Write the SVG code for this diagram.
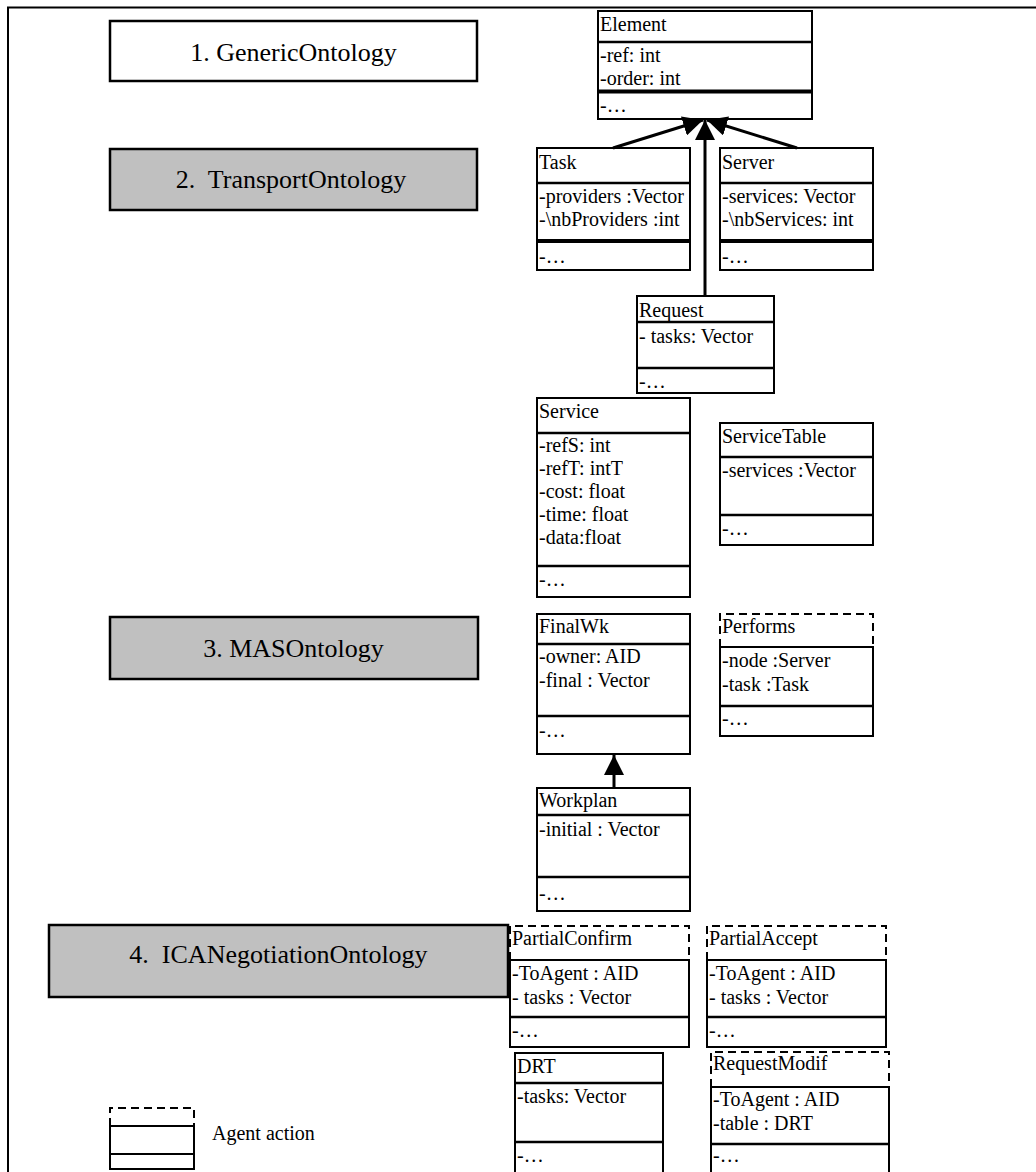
<svg xmlns="http://www.w3.org/2000/svg" width="1036" height="1172" viewBox="0 0 1036 1172">
  <style>
    .frame { fill: none; stroke: #000; stroke-width: 2; }
    .box { fill: #fff; stroke: #000; stroke-width: 2; }
    .div { stroke: #000; stroke-width: 2.5; }
    .thick { stroke: #000; stroke-width: 4; }
    .dash { fill: none; stroke: #000; stroke-width: 2; stroke-dasharray: 8 5; }
    .onto { stroke: #000; stroke-width: 2.5; }
    .grey { fill: #c0c0c0; }
    .white { fill: #fff; }
    .t { font-family: "Liberation Serif", "Times New Roman", serif; font-size: 20px; fill: #000; }
    .ot { font-family: "Liberation Serif", "Times New Roman", serif; font-size: 26px; fill: #000; text-anchor: middle; }
    .conn { stroke: #000; stroke-width: 3; fill: none; }
  </style>
  <defs>
    <marker id="tri" viewBox="0 0 10 10" refX="10" refY="5" markerWidth="20" markerHeight="20" markerUnits="userSpaceOnUse" orient="auto">
      <path d="M0,0 L10,5 L0,10 z" fill="#000"/>
    </marker>
  </defs>

  <rect width="1036" height="1172" fill="#fff"/>

  <!-- page frame: top and left rules -->
  <path class="frame" d="M1036,7.5 H8 V1172"/>

  <!-- ontology layer labels -->
  <g id="generic-ontology">
    <rect class="onto white" x="110" y="21" width="367" height="60"/>
    <text class="ot" x="293.5" y="61">1. GenericOntology</text>
  </g>
  <g id="transport-ontology">
    <rect class="onto grey" x="110" y="149" width="367" height="61"/>
    <text class="ot" x="291" y="188" xml:space="preserve">2.  TransportOntology</text>
  </g>
  <g id="mas-ontology">
    <rect class="onto grey" x="110" y="617" width="368" height="62"/>
    <text class="ot" x="293.5" y="657">3. MASOntology</text>
  </g>
  <g id="ica-negotiation-ontology">
    <rect class="onto grey" x="49" y="925" width="459" height="72"/>
    <text class="ot" x="278.5" y="963" xml:space="preserve">4.  ICANegotiationOntology</text>
  </g>

  <!-- classes -->
  <g id="element">
    <rect class="box" x="598" y="11" width="214" height="108"/>
    <line class="div" x1="598" y1="42" x2="812" y2="42"/>
    <line class="thick" x1="598" y1="91.5" x2="812" y2="91.5"/>
    <text class="t" x="600" y="31">Element</text>
    <text class="t" x="600" y="62">-ref: int</text>
    <text class="t" x="600" y="85">-order: int</text>
    <text class="t" x="600" y="112">-…</text>
  </g>

  <g id="task">
    <rect class="box" x="537" y="148" width="153" height="122"/>
    <line class="div" x1="537" y1="183" x2="690" y2="183"/>
    <line class="thick" x1="537" y1="241" x2="690" y2="241"/>
    <text class="t" x="539" y="169">Task</text>
    <text class="t" x="539" y="203">-providers :Vector</text>
    <text class="t" x="539" y="226">-\nbProviders :int</text>
    <text class="t" x="539" y="263">-…</text>
  </g>

  <g id="server">
    <rect class="box" x="720" y="148" width="153" height="122"/>
    <line class="div" x1="720" y1="183" x2="873" y2="183"/>
    <line class="thick" x1="720" y1="241" x2="873" y2="241"/>
    <text class="t" x="722" y="169">Server</text>
    <text class="t" x="722" y="203">-services: Vector</text>
    <text class="t" x="722" y="226">-\nbServices: int</text>
    <text class="t" x="722" y="263">-…</text>
  </g>

  <g id="request">
    <rect class="box" x="637" y="296" width="137" height="97"/>
    <line class="div" x1="637" y1="322" x2="774" y2="322"/>
    <line class="div" x1="637" y1="368" x2="774" y2="368"/>
    <text class="t" x="639" y="317">Request</text>
    <text class="t" x="639" y="343">- tasks: Vector</text>
    <text class="t" x="639" y="388">-…</text>
  </g>

  <g id="service">
    <rect class="box" x="537" y="398" width="153" height="199"/>
    <line class="div" x1="537" y1="433" x2="690" y2="433"/>
    <line class="div" x1="537" y1="566" x2="690" y2="566"/>
    <text class="t" x="539" y="418">Service</text>
    <text class="t" x="539" y="452">-refS: int</text>
    <text class="t" x="539" y="475">-refT: intT</text>
    <text class="t" x="539" y="498">-cost: float</text>
    <text class="t" x="539" y="521">-time: float</text>
    <text class="t" x="539" y="544">-data:float</text>
    <text class="t" x="539" y="586">-…</text>
  </g>

  <g id="service-table">
    <rect class="box" x="720" y="423" width="153" height="122"/>
    <line class="div" x1="720" y1="457" x2="873" y2="457"/>
    <line class="div" x1="720" y1="515" x2="873" y2="515"/>
    <text class="t" x="722" y="443">ServiceTable</text>
    <text class="t" x="722" y="477">-services :Vector</text>
    <text class="t" x="722" y="535">-…</text>
  </g>

  <g id="final-wk">
    <rect class="box" x="537" y="614" width="153" height="140"/>
    <line class="div" x1="537" y1="644" x2="690" y2="644"/>
    <line class="div" x1="537" y1="716" x2="690" y2="716"/>
    <text class="t" x="539" y="633">FinalWk</text>
    <text class="t" x="539" y="663">-owner: AID</text>
    <text class="t" x="539" y="687">-final : Vector</text>
    <text class="t" x="539" y="737">-…</text>
  </g>

  <g id="performs">
    <path class="dash" d="M720,647 V614 H873 V647"/>
    <rect class="box" x="720" y="647" width="153" height="89"/>
    <line class="div" x1="720" y1="706" x2="873" y2="706"/>
    <text class="t" x="722" y="633">Performs</text>
    <text class="t" x="722" y="667">-node :Server</text>
    <text class="t" x="722" y="691">-task :Task</text>
    <text class="t" x="722" y="725">-…</text>
  </g>

  <g id="workplan">
    <rect class="box" x="537" y="788" width="153" height="123"/>
    <line class="div" x1="537" y1="815" x2="690" y2="815"/>
    <line class="div" x1="537" y1="877" x2="690" y2="877"/>
    <text class="t" x="539" y="807">Workplan</text>
    <text class="t" x="539" y="836">-initial : Vector</text>
    <text class="t" x="539" y="900">-…</text>
  </g>

  <g id="partial-confirm">
    <path class="dash" d="M510,960 V926 H689 V960"/>
    <rect class="box" x="510" y="960" width="179" height="87"/>
    <line class="div" x1="510" y1="1017" x2="689" y2="1017"/>
    <text class="t" x="512" y="945">PartialConfirm</text>
    <text class="t" x="512" y="980">-ToAgent : AID</text>
    <text class="t" x="512" y="1004">- tasks : Vector</text>
    <text class="t" x="512" y="1037">-…</text>
  </g>

  <g id="partial-accept">
    <path class="dash" d="M707,960 V926 H886 V960"/>
    <rect class="box" x="707" y="960" width="179" height="87"/>
    <line class="div" x1="707" y1="1017" x2="886" y2="1017"/>
    <text class="t" x="709" y="945">PartialAccept</text>
    <text class="t" x="709" y="980">-ToAgent : AID</text>
    <text class="t" x="709" y="1004">- tasks : Vector</text>
    <text class="t" x="709" y="1037">-…</text>
  </g>

  <g id="drt">
    <rect class="box" x="515" y="1053" width="148" height="130"/>
    <line class="div" x1="515" y1="1083" x2="663" y2="1083"/>
    <line class="div" x1="515" y1="1142" x2="663" y2="1142"/>
    <text class="t" x="517" y="1073">DRT</text>
    <text class="t" x="517" y="1103">-tasks: Vector</text>
    <text class="t" x="517" y="1162">-…</text>
  </g>

  <g id="request-modif">
    <path class="dash" d="M711,1087 V1052 H889 V1087"/>
    <rect class="box" x="711" y="1087" width="178" height="96"/>
    <line class="div" x1="711" y1="1144" x2="889" y2="1144"/>
    <text class="t" x="713" y="1070">RequestModif</text>
    <text class="t" x="713" y="1106">-ToAgent : AID</text>
    <text class="t" x="713" y="1130">-table : DRT</text>
    <text class="t" x="713" y="1162">-…</text>
  </g>

  <!-- legend -->
  <g id="legend">
    <path class="dash" d="M110,1126 V1108 H194 V1126"/>
    <rect class="box" x="110" y="1126" width="84" height="28"/>
    <rect class="box" x="110" y="1154" width="84" height="15"/>
    <text class="t" x="212" y="1140">Agent action</text>
  </g>

  <!-- generalisation connectors -->
  <g id="connectors">
    <line class="conn" x1="613" y1="148" x2="703" y2="120" marker-end="url(#tri)"/>
    <line class="conn" x1="797" y1="148" x2="707" y2="120" marker-end="url(#tri)"/>
    <line class="conn" x1="705" y1="296" x2="705" y2="120" marker-end="url(#tri)"/>
    <line class="conn" x1="614" y1="788" x2="614" y2="755" marker-end="url(#tri)"/>
  </g>
</svg>
